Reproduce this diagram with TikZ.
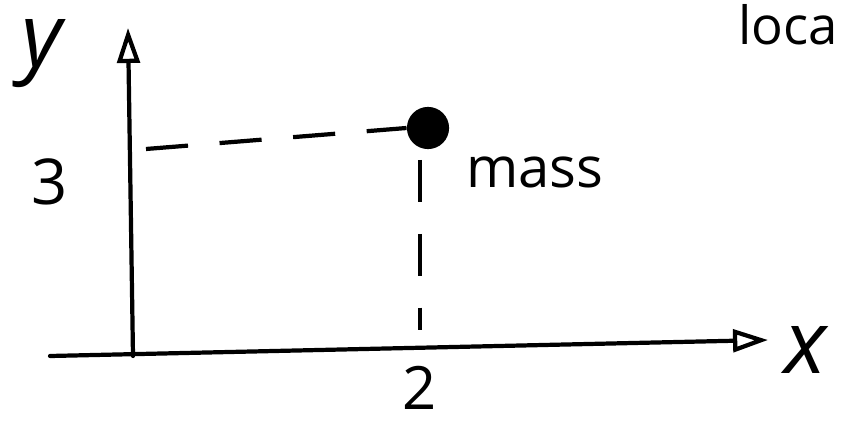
\documentclass[tikz,border=0pt]{standalone}
\usepackage{fontspec}
\setmainfont{Open Sans}
\usetikzlibrary{arrows.meta,positioning,calc}

\begin{document}
\begin{tikzpicture}[x=0.02cm,y=-0.02cm,>={Triangle[open,length=7mm,width=4.5mm]},
  axis/.style={line width=2.4pt,line cap=round},
  guide/.style={line width=2.4pt,dash pattern=on 24pt off 18pt},
  lbl/.style={inner sep=0pt,font=\fontsize{36}{40}\selectfont}]
  \useasboundingbox (0,0) rectangle (844,428);
  \clip (0,0) rectangle (844,428);
  \coordinate (xs) at (50,356);
  \coordinate (xe) at (768,340);
  \coordinate (ys) at (133,356);
  \coordinate (ye) at (128,28);
  \node[circle,fill=black,minimum size=24pt,inner sep=0pt] (mass) at (428,128) {};
  \draw[->,axis] (xs) -- (xe);
  \draw[->,axis] (ys) -- (ye);
  \draw[guide] (146,149) -- (mass.west);
  \draw[guide] (420,160) -- (420,330);
  \node[lbl,font=\fontsize{50}{56}\itshape] (ylab) at (42,54) {y};
  \node[lbl,font=\fontsize{50}{56}\itshape] (xlab) at (806,350) {x};
  \node[lbl] (three) at (50,182) {3};
  \node[lbl,font=\fontsize{34}{40}\selectfont] (two) at (420,388) {2};
  \node[lbl,font=\fontsize{32}{40}\selectfont] (mlab) at (535,172) {mass};
  \node[lbl,font=\fontsize{30}{36}\selectfont,anchor=north east] (loc) at (838,4) {loca};
\end{tikzpicture}
\end{document}
